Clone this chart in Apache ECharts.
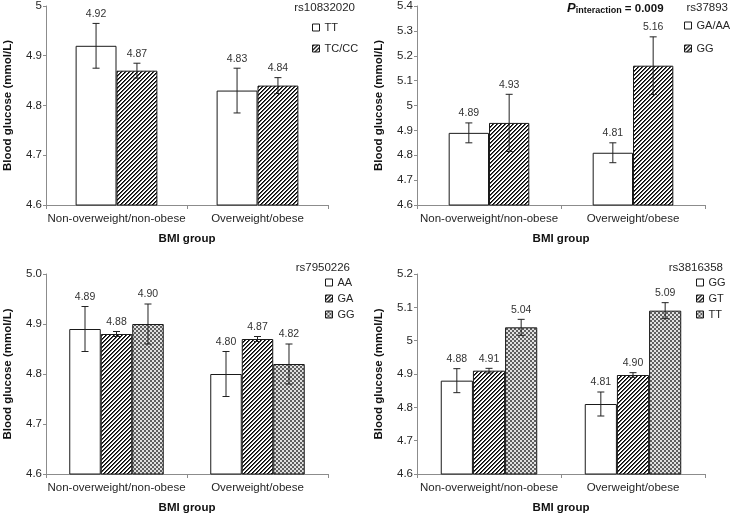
<!DOCTYPE html>
<html>
<head>
<meta charset="utf-8">
<script src="https://cdn.jsdelivr.net/npm/echarts@6/dist/echarts.min.js"></script>
<style>html,body{margin:0;padding:0;background:#fff}#c{width:730px;height:515px}</style>
</head>
<body>
<div id="c"></div>
<script>
// ---- data ----
const categories = ['Non-overweight/non-obese', 'Overweight/obese'];

// Panel A: rs10832020
const a_names = ['TT', 'TC/CC'];
const a_TT = [4.92, 4.83];
const a_TT_se = [0.045, 0.045];
const a_TCCC = [4.87, 4.84];
const a_TCCC_se = [0.015, 0.016];
const a_ticks = ['4.6', '4.7', '4.8', '4.9', '5'];

// Panel B: rs37893
const b_names = ['GA/AA', 'GG'];
const b_GAAA = [4.89, 4.81];
const b_GAAA_se = [0.04, 0.04];
const b_GG = [4.93, 5.16];
const b_GG_se = [0.115, 0.116];
const b_ticks = ['4.6', '4.7', '4.8', '4.9', '5', '5.1', '5.2', '5.3', '5.4'];

// Panel C: rs7950226
const c_names = ['AA', 'GA', 'GG'];
const c_AA = [4.89, 4.80];
const c_AA_se = [0.045, 0.045];
const c_GA = [4.88, 4.87];
const c_GA_se = [0.005, 0.005];
const c_GG = [4.90, 4.82];
const c_GG_se = [0.04, 0.04];
const c_ticks = ['4.6', '4.7', '4.8', '4.9', '5.0'];

// Panel D: rs3816358
const d_names = ['GG', 'GT', 'TT'];
const d_GG = [4.88, 4.81];
const d_GG_se = [0.036, 0.036];
const d_GT = [4.91, 4.897];
const d_GT_se = [0.007, 0.007];
const d_TT = [5.04, 5.09];
const d_TT_se = [0.024, 0.024];
const d_ticks = ['4.6', '4.7', '4.8', '4.9', '5', '5.1', '5.2'];

const snpTitles = ['rs10832020', 'rs37893', 'rs7950226', 'rs3816358'];

// ---- patterns ----
function hatchTile() {
  const cv = document.createElement('canvas'); cv.width = 4; cv.height = 4;
  const ctx = cv.getContext('2d'); const img = ctx.createImageData(4, 4);
  for (let y = 0; y < 4; y++) for (let x = 0; x < 4; x++) {
    const k = (x + y) % 4; const v = (k === 0) ? 0 : (k === 1 ? 80 : 255);
    const i = (y * 4 + x) * 4; img.data[i] = v; img.data[i+1] = v; img.data[i+2] = v; img.data[i+3] = 255;
  }
  ctx.putImageData(img, 0, 0); return cv;
}
function checkTile() {
  const cv = document.createElement('canvas'); cv.width = 4; cv.height = 4;
  const ctx = cv.getContext('2d'); const img = ctx.createImageData(4, 4);
  for (let y = 0; y < 4; y++) for (let x = 0; x < 4; x++) {
    const on = ((Math.floor(x / 2) + Math.floor(y / 2)) % 2) === 0;
    const v = on ? 225 : 95;
    const i = (y * 4 + x) * 4; img.data[i] = v; img.data[i+1] = v; img.data[i+2] = v; img.data[i+3] = 255;
  }
  ctx.putImageData(img, 0, 0); return cv;
}
const FILL_WHITE = '#ffffff';
const FILL_HATCH = { image: hatchTile(), repeat: 'repeat' };
const FILL_CHECK = { image: checkTile(), repeat: 'repeat' };

const FONT = 'Liberation Sans, Arial, sans-serif';
const TXT = '#262626';
const AXC = '#8c8c8c';

const panels = [
  { names: a_names, vals: [a_TT, a_TCCC], ses: [a_TT_se, a_TCCC_se], fills: [FILL_WHITE, FILL_HATCH], ticks: a_ticks, gap: 0.42,
    grid: { left: 46, top: 4, width: 282, height: 201 }, legend: { left: 312, top: 22, itemGap: 10 } },
  { names: b_names, vals: [b_GAAA, b_GG], ses: [b_GAAA_se, b_GG_se], fills: [FILL_WHITE, FILL_HATCH], ticks: b_ticks, gap: 0.44,
    grid: { left: 417, top: 4, width: 288, height: 201 }, legend: { left: 684, top: 20, itemGap: 12 } },
  { names: c_names, vals: [c_AA, c_GA, c_GG], ses: [c_AA_se, c_GA_se, c_GG_se], fills: [FILL_WHITE, FILL_HATCH, FILL_CHECK], ticks: c_ticks, gap: 0.33,
    grid: { left: 46, top: 274, width: 282, height: 201 }, legend: { left: 325, top: 277, itemGap: 5 } },
  { names: d_names, vals: [d_GG, d_GT, d_TT], ses: [d_GG_se, d_GT_se, d_TT_se], fills: [FILL_WHITE, FILL_HATCH, FILL_CHECK], ticks: d_ticks, gap: 0.33,
    grid: { left: 417, top: 274, width: 288, height: 201 }, legend: { left: 696, top: 277, itemGap: 5 } }
];

const grids = [], xAxes = [], yAxes = [], series = [], legends = [];
panels.forEach((p, pi) => {
  grids.push(Object.assign({ containLabel: false }, p.grid));
  xAxes.push({
    type: 'category', gridIndex: pi, data: categories,
    axisLine: { lineStyle: { color: AXC, width: 1 } },
    axisTick: { show: true, length: 4, lineStyle: { color: AXC } },
    axisLabel: { fontFamily: FONT, fontSize: 11.5, color: TXT, margin: 8, interval: 0, hideOverlap: false },
    name: 'BMI group', nameLocation: 'middle', nameGap: 28,
    nameTextStyle: { fontFamily: FONT, fontSize: 11.5, fontWeight: 'bold', color: '#111' }
  });
  const tks = p.ticks;
  yAxes.push({
    type: 'value', gridIndex: pi, min: Number(tks[0]), max: Number(tks[tks.length - 1]), interval: 0.1,
    axisLine: { show: true, lineStyle: { color: AXC, width: 1 } },
    axisTick: { show: true, length: 3, lineStyle: { color: AXC } },
    splitLine: { show: false },
    axisLabel: { fontFamily: FONT, fontSize: 11.5, color: TXT, margin: 4,
      formatter: (v) => tks[Math.round((v - Number(tks[0])) / 0.1)] },
    name: 'Blood glucose (mmol/L)', nameLocation: 'middle', nameGap: 32, nameRotate: 90,
    nameTextStyle: { fontFamily: FONT, fontSize: 11.5, fontWeight: 'bold', color: '#111' }
  });
  const n = p.names.length;
  const legendData = [];
  p.names.forEach((nm, k) => {
    const sname = nm + '#' + pi;
    legendData.push(sname);
    series.push({
      type: 'bar', name: sname, xAxisIndex: pi, yAxisIndex: pi,
      data: p.vals[k], barGap: '0%', barCategoryGap: (p.gap * 100) + '%',
      itemStyle: { color: p.fills[k], borderColor: '#1a1a1a', borderWidth: 1 },
      emphasis: { disabled: true }, animation: false
    });
    const errData = p.vals[k].map((v, ci) => [ci, v, p.ses[k][ci]]);
    series.push({
      type: 'custom', name: 'err' + pi + '_' + k, xAxisIndex: pi, yAxisIndex: pi,
      data: errData, encode: { x: 0, y: 1 }, z: 5, animation: false, silent: true,
      renderItem: (params, api) => {
        const ci = api.value(0), v = api.value(1), se = api.value(2);
        const c = api.coord([ci, v]);
        const band = api.size([1, 0])[0];
        const bw = band * (1 - p.gap) / n;
        const x = c[0] + (k - (n - 1) / 2) * bw;
        const yt = api.coord([ci, v + se])[1];
        const yb = api.coord([ci, v - se])[1];
        const cap = 3.5;
        const ls = { stroke: '#222', lineWidth: 1 };
        return { type: 'group', children: [
          { type: 'line', shape: { x1: x, y1: yt, x2: x, y2: yb }, style: ls },
          { type: 'line', shape: { x1: x - cap, y1: yt, x2: x + cap, y2: yt }, style: ls },
          { type: 'line', shape: { x1: x - cap, y1: yb, x2: x + cap, y2: yb }, style: ls },
          { type: 'text', style: { x: x, y: yt - 4, text: v.toFixed(2), align: 'center', verticalAlign: 'bottom',
              fontFamily: FONT, fontSize: 10.5, fill: '#333' } }
        ] };
      }
    });
  });
  legends.push({
    orient: 'vertical', left: p.legend.left, top: p.legend.top, itemGap: p.legend.itemGap,
    itemWidth: 7, itemHeight: 7, icon: 'rect', selectedMode: false, padding: 0,
    data: legendData, formatter: (name) => name.split('#')[0],
    textStyle: { fontFamily: FONT, fontSize: 11, color: TXT }, itemStyle: { borderColor: '#1a1a1a', borderWidth: 1 }
  });
});

const titles = [
  { text: snpTitles[0], right: 375, top: 2 },
  { text: snpTitles[1], right: 2, top: 2 },
  { text: snpTitles[2], right: 380, top: 262 },
  { text: snpTitles[3], right: 7, top: 262 }
].map(t => Object.assign(t, { padding: 0, textStyle: { fontFamily: FONT, fontSize: 11.5, fontWeight: 'normal', color: TXT } }));
titles.push({
  left: 567, top: 0, padding: 0,
  text: '{p|P}{s|interaction}{b| = 0.009}',
  textStyle: { rich: {
    p: { fontFamily: FONT, fontSize: 13, fontWeight: 'bold', fontStyle: 'italic', color: '#111', verticalAlign: 'bottom' },
    s: { fontFamily: FONT, fontSize: 9, fontWeight: 'bold', color: '#111', padding: [6, 0, 0, 0], verticalAlign: 'bottom' },
    b: { fontFamily: FONT, fontSize: 11.5, fontWeight: 'bold', color: '#111', verticalAlign: 'bottom' }
  } }
});

const chart = echarts.init(document.getElementById('c'), null, { renderer: 'canvas' });
chart.setOption({
  animation: false,
  backgroundColor: '#fff',
  title: titles,
  legend: legends,
  grid: grids,
  xAxis: xAxes,
  yAxis: yAxes,
  series: series
});
</script>
</body>
</html>
